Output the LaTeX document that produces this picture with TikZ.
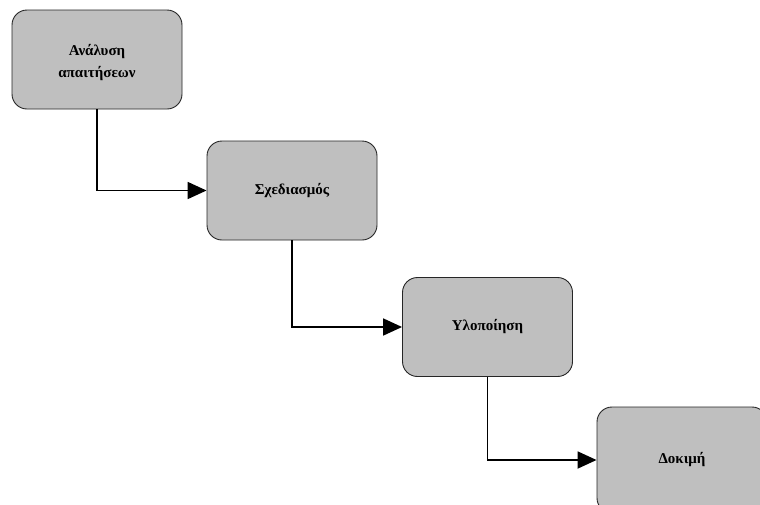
\documentclass[tikz,border=0pt]{standalone}
\usepackage{fontspec}
\setmainfont{Liberation Serif}
\usetikzlibrary{arrows.meta}
\begin{document}
\begin{tikzpicture}[x=1pt,y=-1pt,
  stage/.style={draw=black!85, line width=0.9pt, fill=black!25, rounded corners=15pt,
    minimum width=170pt, minimum height=99pt, inner sep=0pt, align=center,
    font=\fontsize{15}{22}\selectfont\bfseries},
  flow/.style={line width=1.8pt, -{Triangle[length=19pt,width=17pt]}}]
\useasboundingbox[fill=white] (0,0) rectangle (760,504);
\node[stage] (a) at (97,59.5) {};
\node[align=center, font=\fontsize{15}{22}\selectfont\bfseries] (at) at (97,63) {Ανάλυση\\απαιτήσεων};
\node[stage] (b) at (292,190.5) {Σχεδιασμός};
\node[stage] (c) at (487.5,327) {Υλοποίηση};
\node[stage, minimum height=106pt] (d) at (682,460) {Δοκιμή};
\draw[flow] (a.south) |- (b.west);
\draw[flow] (b.south) |- (c.west);
\draw[flow] (c.south) |- (d.west);
\end{tikzpicture}
\end{document}
